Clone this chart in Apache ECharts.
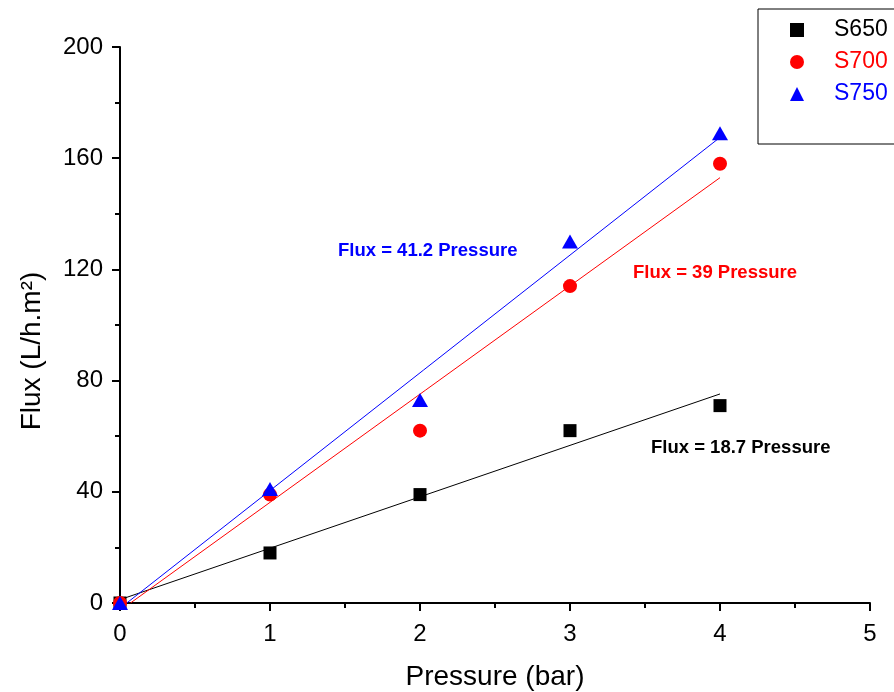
<!DOCTYPE html>
<html>
<head>
<meta charset="utf-8">
<script src="https://cdn.jsdelivr.net/npm/echarts@6/dist/echarts.min.js"></script>
<style>
  html, body { margin: 0; padding: 0; background: #fff; }
  #main { width: 894px; height: 692px; }
</style>
</head>
<body>
<div id="main"></div>
<script>
// measured data
var pressure = [0, 1, 2, 3, 4];
var s650 = [0, 18, 39, 62, 71];
var s700 = [0, 39, 62, 114, 158];
var s750 = [0, 41, 73, 130, 169];

// fitted lines (start / end as drawn)
var fit650X = [0, 4], fit650Y = [1.2, 75.2];
var fit700X = [0.07, 4], fit700Y = [0, 153];
var fit750X = [0.045, 4], fit750Y = [0, 167.5];

var seriesNames = ['S650', 'S700', 'S750'];
var seriesColors = ['#000000', '#ff0000', '#0000ff'];
var seriesSymbols = ['rect', 'circle', 'triangle'];
var fitLabels = ['Flux = 18.7 Pressure', 'Flux = 39 Pressure', 'Flux = 41.2 Pressure'];

var FONT = '"Liberation Sans", Arial, sans-serif';

function pairs(xs, ys) {
	var out = [];
	for (var i = 0; i < xs.length; i++) out.push([xs[i], ys[i]]);
	return out;
}

var myChart = echarts.init(document.getElementById('main'), null, { renderer: 'canvas' });

var scatterValues = [s650, s700, s750];
var fitX = [fit650X, fit700X, fit750X];
var fitY = [fit650Y, fit700Y, fit750Y];
var symbolSizes = [13, 14, [16, 14]];

var series = [];
for (var k = 0; k < 3; k++) {
	series.push({
		name : seriesNames[k],
		type : 'scatter',
		symbol : seriesSymbols[k],
		symbolSize : symbolSizes[k],
		itemStyle : { color : seriesColors[k], opacity : 1 },
		data : pairs(pressure, scatterValues[k]),
		z : 3 + k
	});
}
for (var k = 0; k < 3; k++) {
	series.push({
		name : seriesNames[k] + ' fit',
		type : 'line',
		symbol : 'none',
		silent : true,
		lineStyle : { color : seriesColors[k], width : 1 },
		data : pairs(fitX[k], fitY[k]),
		z : 2
	});
}

var axisCommon = {
	axisLine : { show : true, onZero : false, lineStyle : { color : '#000', width : 2 } },
	axisTick : { show : true, length : 8, lineStyle : { color : '#000', width : 2 } },
	minorTick : { show : true, splitNumber : 2, length : 5, lineStyle : { color : '#000', width : 2 } },
	splitLine : { show : false },
	axisLabel : { fontSize : 24, color : '#000', fontFamily : FONT },
	nameLocation : 'middle',
	nameTextStyle : { fontSize : 28, color : '#000', fontFamily : FONT }
};

var option = {
	backgroundColor : '#fff',
	animation : false,
	grid : { left : 120, right : 24, top : 47, bottom : 89, outerBoundsMode : 'none', containLabel : false },
	xAxis : echarts.util.merge({
		type : 'value', min : 0, max : 5, interval : 1,
		name : 'Pressure (bar)', nameGap : 60,
		axisLabel : { margin : 19 }
	}, axisCommon),
	yAxis : echarts.util.merge({
		type : 'value', min : 0, max : 200, interval : 40,
		name : 'Flux (L/h.m²)', nameGap : 74,
		nameTextStyle : { padding : [0, 52, 0, 0] },
		axisLabel : { margin : 17 }
	}, axisCommon),
	legend : {
		orient : 'vertical',
		left : 758, top : 9,
		borderColor : '#000', borderWidth : 1,
		padding : [9, 60, 38, 32],
		itemWidth : 14, itemHeight : 14, itemGap : 8,
		selectedMode : false,
		textStyle : { fontSize : 23, lineHeight : 24, fontFamily : FONT, padding : [0, 0, 0, 25] },
		data : seriesNames.map(function(n, i) {
			return { name : n, icon : seriesSymbols[i], textStyle : { color : seriesColors[i] } };
		})
	},
	graphic : [
		{ type : 'text', left : 338, top : 241, style : { text : fitLabels[2], fill : seriesColors[2], font : 'bold 18.5px ' + FONT } },
		{ type : 'text', left : 633, top : 263, style : { text : fitLabels[1], fill : seriesColors[1], font : 'bold 18.5px ' + FONT } },
		{ type : 'text', left : 651, top : 438, style : { text : fitLabels[0], fill : seriesColors[0], font : 'bold 18.5px ' + FONT } }
	],
	series : series
};

myChart.setOption(option);
</script>
</body>
</html>
